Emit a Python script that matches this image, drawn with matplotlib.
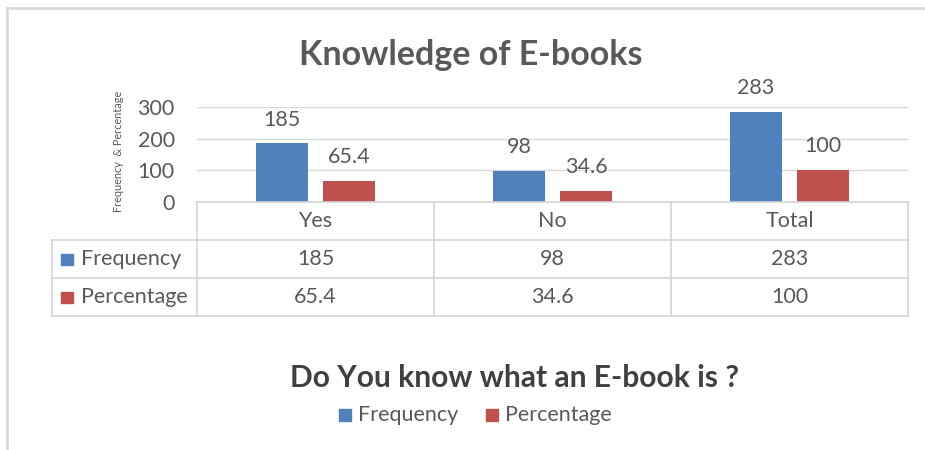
import matplotlib.pyplot as plt
from matplotlib.patches import Rectangle
import numpy as np

# chart data
categories = ["Yes", "No", "Total"]
frequency = [185, 98, 283]
percentage = [65.4, 34.6, 100]
series_names = ["Frequency", "Percentage"]
yticks = [0, 100, 200, 300]

blue = "#4F81BD"
red = "#C0504D"
grey_text = "#595959"
line_col = "#D9D9D9"

plt.rcParams['font.family'] = ['Lato', 'DejaVu Sans']
fs = 15.5

W, H = 925, 450
fig = plt.figure(figsize=(W / 100, H / 100), dpi=100)

# plot area in pixels
px_left, px_right, px_top, px_bottom = 197, 908, 107, 202
ax = fig.add_axes([px_left / W, 1 - px_bottom / H,
                   (px_right - px_left) / W, (px_bottom - px_top) / H])

x = np.arange(len(categories))
bw = 0.22
gap = 0.063
b1 = ax.bar(x - (bw + gap) / 2, frequency, bw, color=blue, zorder=3)
b2 = ax.bar(x + (bw + gap) / 2, percentage, bw, color=red, zorder=3)
for bars, vals in [(b1, frequency), (b2, percentage)]:
    for r, v in zip(bars, vals):
        ax.annotate(f"{v:g}", (r.get_x() + r.get_width() / 2, r.get_height()),
                    xytext=(0, 10), textcoords="offset points", ha="center",
                    va="bottom", fontsize=fs, color=grey_text)

ax.set_xlim(-0.5, len(categories) - 0.5)
ax.set_ylim(0, 300)
ax.set_yticks(yticks)
ax.set_xticks([])
ax.tick_params(axis="y", length=0, labelsize=fs, labelcolor=grey_text, pad=16)
ax.grid(axis="y", color=line_col, linewidth=1, zorder=0)
for s in ax.spines.values():
    s.set_visible(False)

# overlays in pixel coords for table, titles, legend, border
ov = fig.add_axes([0, 0, 1, 1], zorder=-1)
ov.set_xlim(0, W)
ov.set_ylim(H, 0)
ov.axis("off")
ov2 = fig.add_axes([0, 0, 1, 1], zorder=5)
ov2.set_xlim(0, W)
ov2.set_ylim(H, 0)
ov2.axis("off")
ov2.patch.set_alpha(0)

# border
ov.plot([7, 7], [8, 450], color="#D9D9D9", lw=2)
ov.plot([7, 925], [8, 8], color="#D9D9D9", lw=2)

# data table
rows_y = [202, 240, 278, 316]
tab_left = 52
col_w = (px_right - px_left) / len(categories)
tcol = "#D4D4D4"
ov2.plot([px_left, px_right], [202, 202], color=tcol, lw=1.2)
for yy in rows_y[1:]:
    ov2.plot([tab_left, px_right], [yy, yy], color=tcol, lw=1.2)
ov2.plot([tab_left, tab_left], [240, 316], color=tcol, lw=1.2)
for i in range(len(categories) + 1):
    xx = px_left + i * col_w
    ov2.plot([xx, xx], [202, 316], color=tcol, lw=1.2)

for i, c in enumerate(categories):
    cx = px_left + (i + 0.5) * col_w
    ov2.text(cx, 221, c, ha="center", va="center", fontsize=fs, color=grey_text)
    ov2.text(cx, 259, f"{frequency[i]:g}", ha="center", va="center", fontsize=fs, color=grey_text)
    ov2.text(cx, 297, f"{percentage[i]:g}", ha="center", va="center", fontsize=fs, color=grey_text)

for name, col, yy in zip(series_names, [blue, red], [259, 297]):
    ov2.add_patch(Rectangle((61, yy - 5), 12, 11, color=col))
    ov2.text(81, yy, name, ha="left", va="center", fontsize=fs, color=grey_text)

# titles
ov2.text(471, 55, "Knowledge of E-books", ha="center", va="center",
         fontsize=24.5, fontweight="bold", color=grey_text)
ov2.text(514, 378, "Do You know what an E-book is ?", ha="center", va="center",
         fontsize=21.6, fontweight="bold", color="#404040")
ov2.text(119, 151, "Frequency  & Percentage", rotation=90, ha="center", va="center",
         fontsize=7.8, color=grey_text)

# legend
leg_x = [339, 486]
for name, col, lx in zip(series_names, [blue, red], leg_x):
    ov2.add_patch(Rectangle((lx, 409), 12, 12, color=col))
    ov2.text(lx + 19, 415, name, ha="left", va="center", fontsize=fs, color=grey_text)

fig.savefig("out.png", dpi=100)
